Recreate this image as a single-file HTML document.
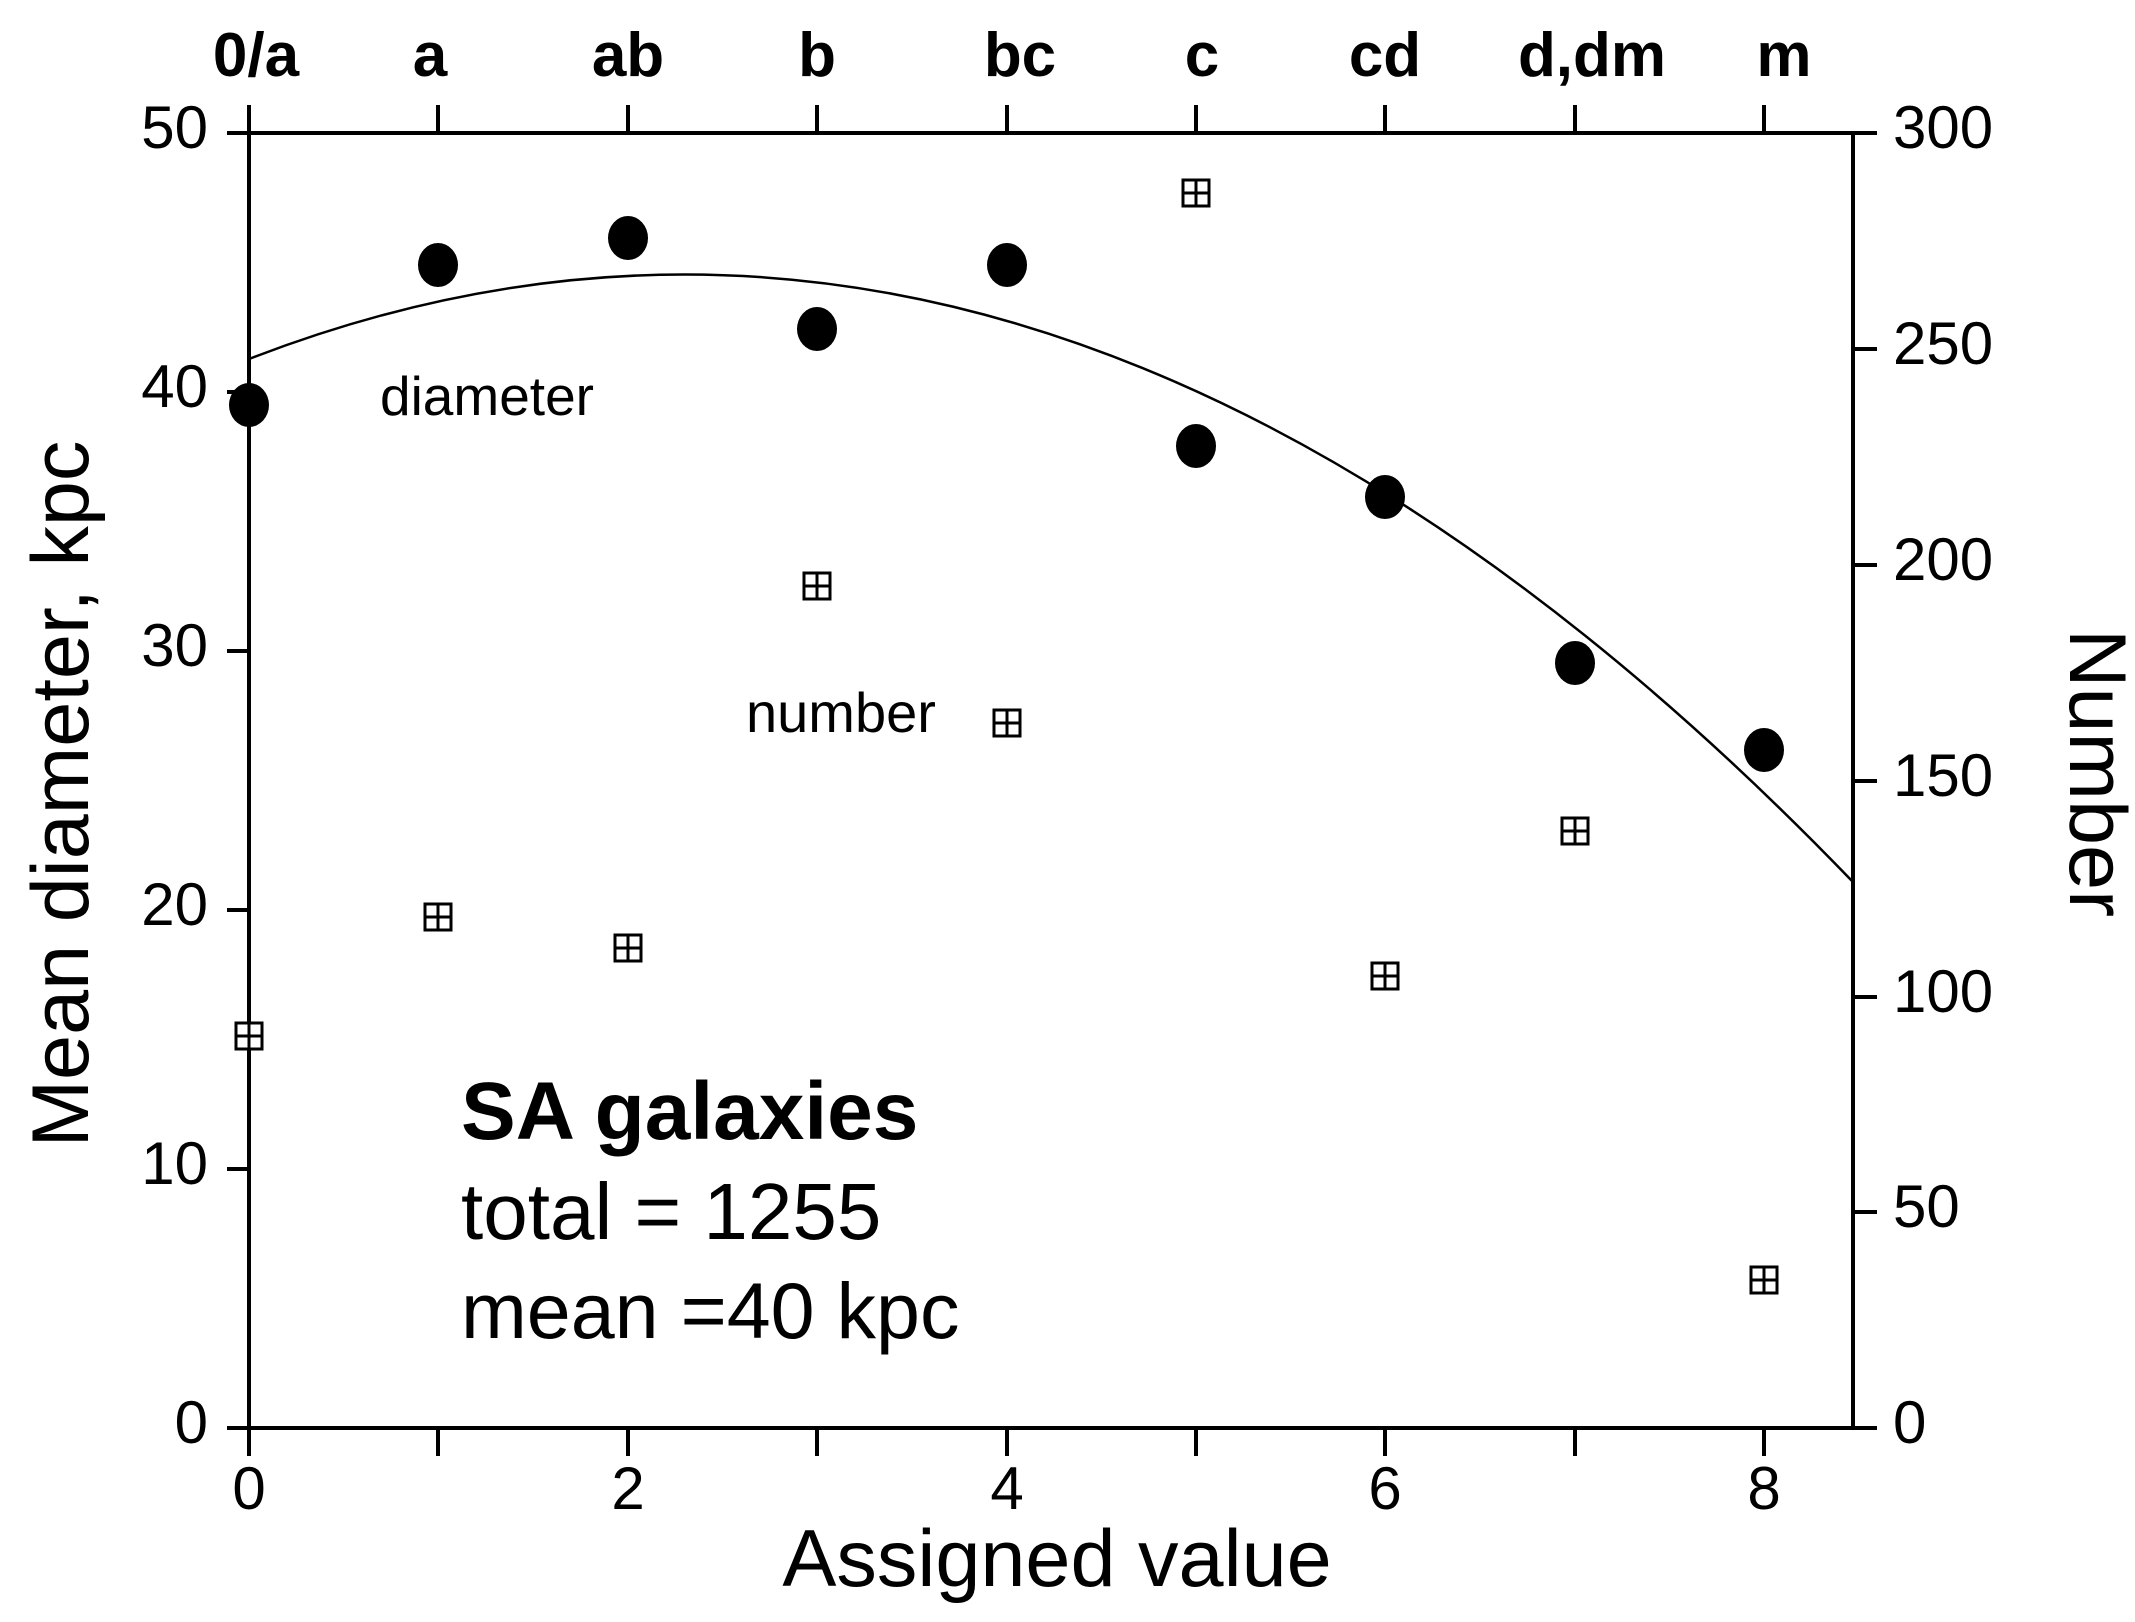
<!DOCTYPE html>
<html><head><meta charset="utf-8"><style>
html,body{margin:0;padding:0;background:#fff;}
svg{display:block;}
text{font-family:"Liberation Sans",Arial,sans-serif;fill:#000;}
</style></head><body>
<svg width="2135" height="1622" viewBox="0 0 2135 1622" xmlns="http://www.w3.org/2000/svg">
<rect width="2135" height="1622" fill="#fff"/>
<g stroke="#000" stroke-width="4" fill="none">
<line x1="249" y1="133" x2="1853" y2="133"/>
<line x1="249" y1="1428" x2="1877" y2="1428"/>
<line x1="249" y1="133" x2="249" y2="1428"/>
<line x1="1853" y1="133" x2="1853" y2="1428"/>
<line x1="249" y1="1428" x2="249" y2="1456"/>
<line x1="438" y1="1428" x2="438" y2="1456"/>
<line x1="628" y1="1428" x2="628" y2="1456"/>
<line x1="817" y1="1428" x2="817" y2="1456"/>
<line x1="1007" y1="1428" x2="1007" y2="1456"/>
<line x1="1196" y1="1428" x2="1196" y2="1456"/>
<line x1="1385" y1="1428" x2="1385" y2="1456"/>
<line x1="1575" y1="1428" x2="1575" y2="1456"/>
<line x1="1764" y1="1428" x2="1764" y2="1456"/>
<line x1="249" y1="133" x2="249" y2="105"/>
<line x1="438" y1="133" x2="438" y2="105"/>
<line x1="628" y1="133" x2="628" y2="105"/>
<line x1="817" y1="133" x2="817" y2="105"/>
<line x1="1007" y1="133" x2="1007" y2="105"/>
<line x1="1196" y1="133" x2="1196" y2="105"/>
<line x1="1385" y1="133" x2="1385" y2="105"/>
<line x1="1575" y1="133" x2="1575" y2="105"/>
<line x1="1764" y1="133" x2="1764" y2="105"/>
<line x1="227" y1="133" x2="249" y2="133"/>
<line x1="227" y1="392" x2="249" y2="392"/>
<line x1="227" y1="651" x2="249" y2="651"/>
<line x1="227" y1="910" x2="249" y2="910"/>
<line x1="227" y1="1169" x2="249" y2="1169"/>
<line x1="227" y1="1428" x2="249" y2="1428"/>
<line x1="1853" y1="133" x2="1877" y2="133"/>
<line x1="1853" y1="349" x2="1877" y2="349"/>
<line x1="1853" y1="565" x2="1877" y2="565"/>
<line x1="1853" y1="781" x2="1877" y2="781"/>
<line x1="1853" y1="997" x2="1877" y2="997"/>
<line x1="1853" y1="1212" x2="1877" y2="1212"/>
</g>
<path d="M249,359 Q1050,48 1853,882" stroke="#000" stroke-width="2.5" fill="none"/>
<g fill="#000">
<ellipse cx="249" cy="405" rx="20" ry="22"/>
<ellipse cx="438" cy="265" rx="20" ry="22"/>
<ellipse cx="628" cy="238" rx="20" ry="22"/>
<ellipse cx="817" cy="329" rx="20" ry="22"/>
<ellipse cx="1007" cy="265" rx="20" ry="22"/>
<ellipse cx="1196" cy="446" rx="20" ry="22"/>
<ellipse cx="1385" cy="497" rx="20" ry="22"/>
<ellipse cx="1575" cy="663" rx="20" ry="22"/>
<ellipse cx="1764" cy="750" rx="20" ry="22"/>
</g>
<defs><g id="sq"><rect x="-13" y="-13" width="26" height="26" fill="#fff" stroke="#000" stroke-width="3"/><line x1="-13" y1="0" x2="13" y2="0" stroke="#000" stroke-width="3"/><line x1="0" y1="-13" x2="0" y2="13" stroke="#000" stroke-width="3"/></g></defs>
<use href="#sq" x="249" y="1036"/>
<use href="#sq" x="438" y="917"/>
<use href="#sq" x="628" y="948"/>
<use href="#sq" x="817" y="586"/>
<use href="#sq" x="1007" y="723"/>
<use href="#sq" x="1196" y="193"/>
<use href="#sq" x="1385" y="976"/>
<use href="#sq" x="1575" y="831"/>
<use href="#sq" x="1764" y="1280"/>
<g font-size="60" text-anchor="end">
<text x="208" y="148">50</text>
<text x="208" y="407">40</text>
<text x="208" y="666">30</text>
<text x="208" y="925">20</text>
<text x="208" y="1184">10</text>
<text x="208" y="1443">0</text>
</g>
<g font-size="60" text-anchor="start">
<text x="1893" y="148">300</text>
<text x="1893" y="364">250</text>
<text x="1893" y="580">200</text>
<text x="1893" y="796">150</text>
<text x="1893" y="1012">100</text>
<text x="1893" y="1227">50</text>
<text x="1893" y="1443">0</text>
</g>
<g font-size="60" text-anchor="middle">
<text x="249" y="1509">0</text>
<text x="628" y="1509">2</text>
<text x="1007" y="1509">4</text>
<text x="1385" y="1509">6</text>
<text x="1764" y="1509">8</text>
</g>
<g font-size="62" font-weight="bold" text-anchor="middle">
<text x="256" y="76">0/a</text>
<text x="430" y="76">a</text>
<text x="628" y="76">ab</text>
<text x="817" y="76">b</text>
<text x="1020" y="76">bc</text>
<text x="1202" y="76">c</text>
<text x="1385" y="76">cd</text>
<text x="1592" y="76">d,dm</text>
<text x="1784" y="76">m</text>
</g>
<text x="1057" y="1586" font-size="81" text-anchor="middle">Assigned value</text>
<text transform="translate(88,794) rotate(-90)" font-size="81" text-anchor="middle">Mean diameter, kpc</text>
<text transform="translate(2070,773) rotate(90)" font-size="81" text-anchor="middle">Number</text>
<text x="380" y="415" font-size="55">diameter</text>
<text x="746" y="732" font-size="56">number</text>
<text x="461" y="1139" font-size="82" font-weight="bold">SA galaxies</text>
<text x="461" y="1239" font-size="80">total = 1255</text>
<text x="461" y="1338" font-size="79">mean =40 kpc</text>
</svg>
</body></html>
